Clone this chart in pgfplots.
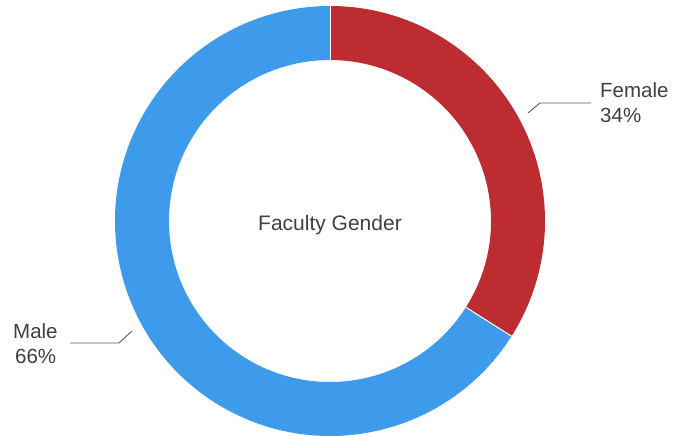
\documentclass[border=0pt]{standalone}
\usepackage{pgfplots}
\pgfplotsset{compat=1.18}
\usepackage{pgfplotstable}
\usepackage{fontspec}
\setmainfont{Liberation Sans}

\definecolor{femred}{RGB}{188,44,48}
\definecolor{maleblue}{RGB}{62,155,236}
\definecolor{txt}{RGB}{64,64,64}
\definecolor{lead}{RGB}{90,90,90}

% share of faculty, in percent
\pgfplotstableread{
label value
Female 34
Male 66
}\gender

\begin{document}
\begin{tikzpicture}
\pgfplotstablegetelem{0}{value}\of\gender \let\vF\pgfplotsretval
\pgfplotstablegetelem{1}{value}\of\gender \let\vM\pgfplotsretval
\pgfmathsetmacro{\aF}{90-3.6*\vF}
\pgfmathsetmacro{\aM}{\aF-3.6*\vM}
\begin{axis}[
    x=1pt, y=1pt,
    xmin=0, xmax=680, ymin=0, ymax=436,
    hide axis, clip=false,
    anchor=origin, at={(0,0)},
  ]
  % donut ring, outer radius 215, inner 161
  \fill[femred] (axis cs:330,215) ++(90:215pt)
    arc[start angle=90, end angle=\aF, radius=215pt]
    -- ++(\aF:-54pt)
    arc[start angle=\aF, end angle=90, radius=161pt] -- cycle;
  \fill[maleblue] (axis cs:330,215) ++(\aF:215pt)
    arc[start angle=\aF, end angle=\aM, radius=215pt]
    -- ++(\aM:-54pt)
    arc[start angle=\aM, end angle=\aF, radius=161pt] -- cycle;
  \draw[white, line width=1pt] (axis cs:330,215) ++(90:161pt) -- ++(90:54pt);
  \draw[white, line width=1pt] (axis cs:330,215) ++(\aF:161pt) -- ++(\aF:54pt);

  \node[anchor=base, text=txt, font=\fontsize{21}{25}\selectfont]
    at (axis cs:330,205) {Faculty Gender};

  % labels with leader lines
  \draw[lead, line width=0.9pt] (axis cs:528,323) -- (axis cs:540,333) -- (axis cs:591,333);
  \node[anchor=base west, inner sep=0pt, text=txt, font=\fontsize{20.5}{24}\selectfont]
    at (axis cs:600,338) {Female};
  \node[anchor=base west, inner sep=0pt, text=txt, font=\fontsize{20.5}{24}\selectfont]
    at (axis cs:600,313) {\vF\%};

  \draw[lead, line width=0.9pt] (axis cs:70,93) -- (axis cs:119,93) -- (axis cs:132,105);
  \node[anchor=base west, inner sep=0pt, text=txt, font=\fontsize{20.5}{24}\selectfont]
    at (axis cs:13,97) {Male};
  \node[anchor=base west, inner sep=0pt, text=txt, font=\fontsize{20.5}{24}\selectfont]
    at (axis cs:15,72) {\vM\%};
\end{axis}
\pgfresetboundingbox
\path (0,0) rectangle (680pt,436pt);
\end{tikzpicture}
\end{document}
